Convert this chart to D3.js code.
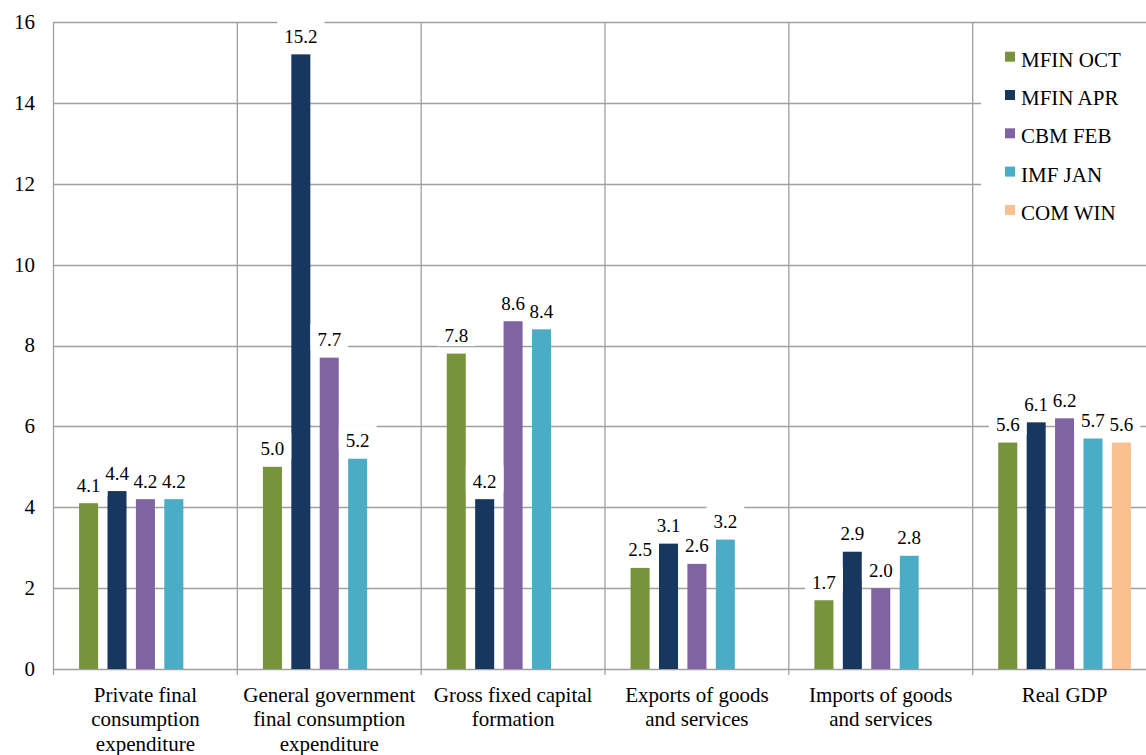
<!DOCTYPE html>
<html>
<head>
<meta charset="utf-8">
<script src="https://cdn.jsdelivr.net/npm/d3@7"></script>
<style>
  html, body { margin: 0; padding: 0; background: #fff; overflow: hidden; }
  svg { display: block; }
</style>
</head>
<body>
<svg id="chart" width="1146" height="755"></svg>
<script>
// Growth forecasts by expenditure component (%)
const categories = [
  ["Private final", "consumption", "expenditure"],
  ["General government", "final consumption", "expenditure"],
  ["Gross fixed capital", "formation"],
  ["Exports of goods", "and services"],
  ["Imports of goods", "and services"],
  ["Real GDP"]
];
const seriesNames = ["MFIN OCT", "MFIN APR", "CBM FEB", "IMF JAN", "COM WIN"];
const mfinOct = [4.1, 5.0, 7.8, 2.5, 1.7, 5.6];
const mfinApr = [4.4, 15.2, 4.2, 3.1, 2.9, 6.1];
const cbmFeb  = [4.2, 7.7, 8.6, 2.6, 2.0, 6.2];
const imfJan  = [4.2, 5.2, 8.4, 3.2, 2.8, 5.7];
const comWin  = [null, null, null, null, null, 5.6];
const yTicks = [0, 2, 4, 6, 8, 10, 12, 14, 16];
const colors = ["#77933C", "#17375E", "#8064A2", "#4BACC6", "#FAC090"];

const seriesValues = [mfinOct, mfinApr, cbmFeb, imfJan, comWin];
const catKeys = categories.map(c => c.join(" "));
const FONT = '"Liberation Serif"';

const svg = d3.select("#chart");
const plotLeft = 53.5, plotRight = 1156.5, plotTop = 22, plotBottom = 669;
const gridColor = "#a0a0a0";

const x0 = d3.scaleBand().domain(catKeys).range([plotLeft, plotRight]).padding(0);
const x1 = d3.scaleBand().domain(seriesNames).range([0, x0.bandwidth()])
  .paddingInner(0.33).paddingOuter(0.9);
const y = d3.scaleLinear().domain([0, 16]).range([plotBottom, plotTop]);

// horizontal gridlines
svg.append("g").selectAll("line").data(yTicks).join("line")
  .attr("x1", plotLeft).attr("x2", plotRight)
  .attr("y1", d => Math.round(y(d)) + 0.5).attr("y2", d => Math.round(y(d)) + 0.5)
  .attr("stroke", gridColor).attr("stroke-width", 1.3);

// vertical category dividers (extend below the baseline as tick marks)
const bounds = catKeys.map(k => x0(k)).concat([plotRight]);
svg.append("g").selectAll("line").data(bounds).join("line")
  .attr("x1", d => d).attr("x2", d => d)
  .attr("y1", plotTop).attr("y2", plotBottom + 6)
  .attr("stroke", gridColor).attr("stroke-width", 1.3);

// y tick labels
svg.append("g").selectAll("text").data(yTicks).join("text")
  .attr("x", 35).attr("y", d => y(d)).attr("dy", "0.33em")
  .attr("text-anchor", "end").attr("font-size", 21).style("font-family", FONT).attr("fill", "#000")
  .text(d => d);

// category labels
const catG = svg.append("g");
categories.forEach((lines, i) => {
  const cx = x0(catKeys[i]) + x0.bandwidth() / 2;
  lines.forEach((ln, j) => {
    catG.append("text").attr("x", cx).attr("y", 701.5 + j * 24.5)
      .attr("text-anchor", "middle").attr("font-size", 21).style("font-family", FONT).attr("fill", "#000")
      .text(ln);
  });
});

// bars
const points = [];
seriesValues.forEach((vals, s) => {
  vals.forEach((v, c) => {
    if (v === null) return;
    points.push({ s, c, v });
  });
});

svg.append("g").selectAll("rect").data(points).join("rect")
  .attr("x", d => x0(catKeys[d.c]) + x1(seriesNames[d.s]))
  .attr("width", x1.bandwidth())
  .attr("y", d => y(d.v))
  .attr("height", d => y(0) - y(d.v))
  .attr("fill", d => colors[d.s]);

// value labels: white boxes first, then all texts on top
const fmt = d3.format(".1f");
const boxG = svg.append("g");
const textG = svg.append("g");
const labelX = d => x0(catKeys[d.c]) + x1(seriesNames[d.s]) + x1.bandwidth() / 2;
const labelY = d => y(d.v) - 11.5;

const labels = textG.selectAll("text").data(points).join("text")
  .attr("x", labelX).attr("y", labelY)
  .attr("text-anchor", "middle").attr("font-size", 19).style("font-family", FONT).attr("fill", "#000")
  .text(d => fmt(d.v));

labels.each(function (d) {
  const bb = this.getBBox();
  boxG.append("rect").attr("fill", "#fff")
    .attr("x", bb.x - 7).attr("width", bb.width + 14)
    .attr("y", labelY(d) - 22).attr("height", 26);
});

// legend
const lg = svg.append("g");
lg.append("rect").attr("x", 981).attr("y", 30).attr("width", 180).attr("height", 210)
  .attr("fill", "#fff");
seriesNames.forEach((name, i) => {
  const base = 66.7 + i * 38.3;
  lg.append("rect").attr("x", 1005).attr("y", base - 15).attr("width", 10).attr("height", 10)
    .attr("fill", colors[i]);
  lg.append("text").attr("x", 1021).attr("y", base).attr("font-size", 21).style("font-family", FONT).attr("fill", "#000")
    .text(name);
});
</script>
</body>
</html>
